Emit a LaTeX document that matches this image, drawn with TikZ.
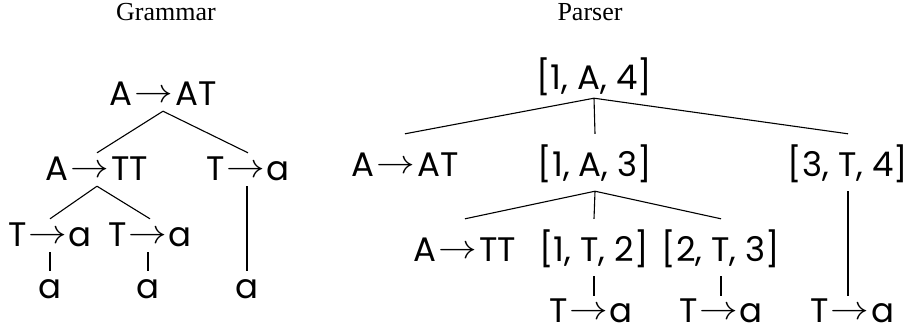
\documentclass[tikz,border=0pt]{standalone}
\usepackage{fontspec}
\usepackage{tikz}
\usetikzlibrary{positioning,calc}

\newfontfamily\treefont{Poppins}
\newfontfamily\titlefont{Liberation Serif}
\newcommand{\rto}{\kern2pt\raisebox{2.3pt}{\scalebox{1.55}[1.35]{$\rightarrow$}}\kern2pt}

\tikzset{
  gnode/.style={anchor=base, inner sep=0pt, text height=27pt, text depth=6pt,
    font=\treefont\fontsize{34}{40}\selectfont},
  pnode/.style={gnode, text height=42pt, text depth=15pt},
  leaf/.style={pnode, text height=26pt, text depth=4pt},
  heading/.style={anchor=base, inner sep=0pt, font=\titlefont\fontsize{26}{30}\selectfont},
  edge/.style={line width=1.1pt}
}

\begin{document}
\begin{tikzpicture}[x=1pt,y=-1pt]
\useasboundingbox (0,0) rectangle (909,330);

\node[heading] (tg) at (166,20) {Grammar};
\node[heading] (tp) at (590,20) {Parser};

% grammar tree
\node[gnode] (g)   at (163,105) {A\rto AT};
\node[gnode] (ga)  at (97,180)  {A\rto TT};
\node[gnode] (gt)  at (248,180) {T\rto a};
\node[gnode] (gt1) at (50,246)  {T\rto a};
\node[gnode] (gt2) at (150,246) {T\rto a};
\node[gnode] (ga1) at (50,298)  {a};
\node[gnode] (ga2) at (148,298) {a};
\node[gnode] (ga3) at (247,298) {a};

\foreach \c in {ga,gt} \draw[edge] (g.south) -- (\c.north);
\foreach \c in {gt1,gt2} \draw[edge] (ga.south) -- (\c.north);
\draw[edge] (ga1 |- gt1.south) -- (ga1.north);
\draw[edge] (ga2 |- gt2.south) -- (ga2.north);
\draw[edge] (ga3 |- gt.south) -- (ga3.north);

% parser tree
\node[pnode, text depth=9pt] (p) at (594,89) {[1, A, 4]};
\node[pnode] (pa) at (405,176) {A\rto AT};
\node[pnode] (pb) at (595,176) {[1, A, 3]};
\node[pnode] (pc) at (848,176) {[3, T, 4]};
\node[pnode] (pd) at (465,261) {A\rto TT};
\node[pnode] (pe) at (594,261) {[1, T, 2]};
\node[pnode] (pf) at (721,261) {[2, T, 3]};
\node[leaf]  (ph) at (591,322) {T\rto a};
\node[leaf]  (pi) at (721,322) {T\rto a};
\node[leaf]  (pj) at (852,322) {T\rto a};

\foreach \c in {pa,pb,pc} \draw[edge] (p.south) -- (\c.north);
\foreach \c in {pd,pe,pf} \draw[edge] (pb.south) -- (\c.north);
\foreach \a/\b in {pe/ph,pf/pi,pc/pj} \draw[edge] (\a.south) -- (\a.south |- \b.north);

\end{tikzpicture}
\end{document}
